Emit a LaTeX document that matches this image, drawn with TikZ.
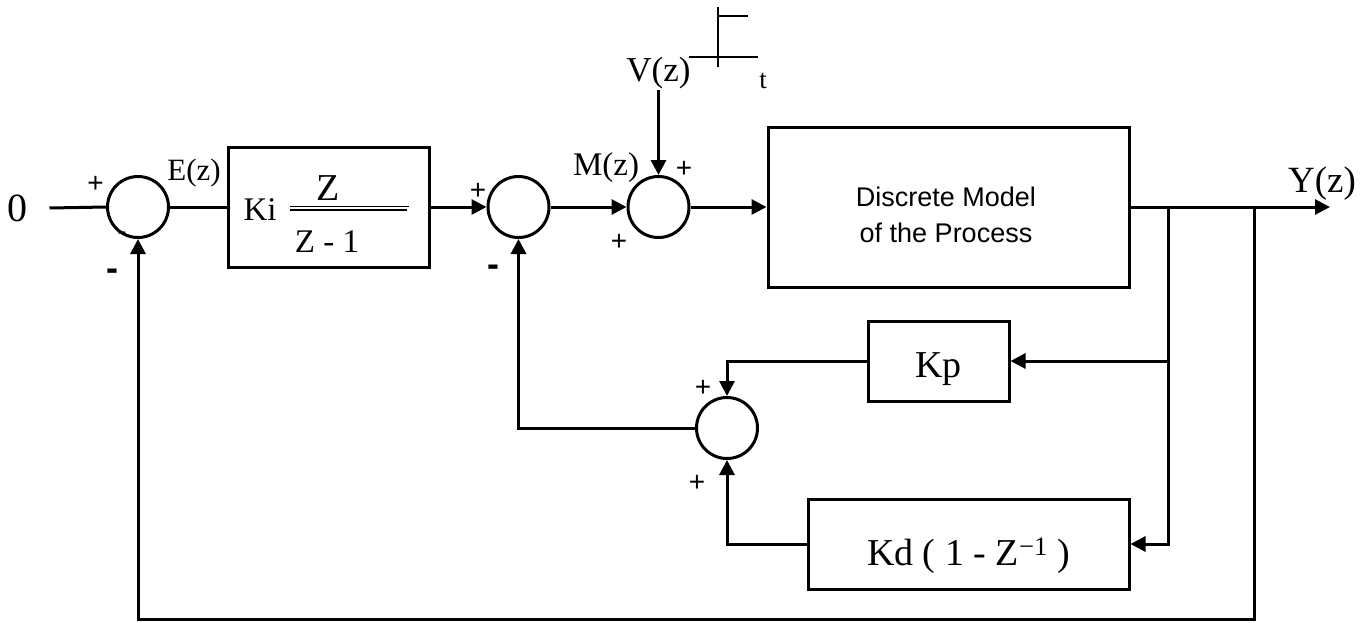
\documentclass[tikz,border=0pt]{standalone}
\usepackage{fontspec}
\setmainfont{Liberation Serif}
\newfontfamily\arialfont{Liberation Sans}
\usepackage{tikz}
\usetikzlibrary{arrows.meta}
\newcommand\fsz[1]{\fontsize{#1}{#1}\selectfont}

\begin{document}
\begin{tikzpicture}[x=1pt,y=-1pt,line width=3pt,>={Triangle[length=15pt,width=15pt]},
  sumnode/.style={circle,draw,minimum size=61pt,inner sep=0pt},
  blockbox/.style={draw,rectangle,inner sep=0pt},
  lbl/.style={inner sep=0pt},
  sgn/.style={inner sep=0pt,font=\arialfont\fsz{28}},
  bigsgn/.style={inner sep=0pt,font=\arialfont\bfseries\fsz{36}}]
  \useasboundingbox (0,0) rectangle (1371,622);
  \node[font=\fsz{40},inner xsep=20pt,inner ysep=0pt] (in0) at (18,208) {0};
  \node[sumnode] (sum1) at (138,207) {};
  \node[sgn] (s1p) at (95.5,184.5) {+};
  \node[sgn] (s1m) at (122,236) {-};
  \node[bigsgn] (s1n) at (112,275) {-};
  \node[lbl,font=\fsz{31}] (ez) at (194,173) {E(z)};
  \node[blockbox,minimum width=201pt,minimum height=120pt] (ki) at (328.5,207) {};
  \node[lbl,font=\fsz{33}] (kilbl) at (260,210) {Ki};
  \node[lbl,font=\fsz{38}] (kinum) at (328,188) {Z};
  \node[lbl,font=\fsz{33}] (kiden) at (327,242) {Z - 1};
  \draw[line width=1.5pt] (290,206.5) -- (409,206.5) (290,209.8) -- (407,209.8);
  \node[sumnode] (sum2) at (518.5,207) {};
  \node[sgn] (s2p) at (478,191) {+};
  \node[bigsgn] (s2m) at (493,271) {-};
  \node[lbl,font=\fsz{33}] (mz) at (606,168) {M(z)};
  \node[sumnode] (sum3) at (658.5,207) {};
  \node[sgn] (s3p) at (684,169) {+};
  \node[sgn] (s3q) at (619,242) {+};
  \node[lbl,font=\fsz{35}] (vz) at (658.5,73) {V(z)};
  \draw[line width=2.4pt] (689,57) -- (758,57) (718,67) -- (718,7) (718,16) -- (748,16);
  \node[lbl,font=\fsz{27}] (tlbl) at (763,81) {t};
  \node[blockbox,minimum width=361pt,minimum height=160pt] (proc) at (948.5,207) {};
  \node[lbl,align=center,font=\arialfont\fontsize{27}{36}\selectfont] (proctxt) at (946,215) {Discrete Model\\of the Process};
  \node[lbl,font=\fsz{37}] (yz) at (1322,184) {Y(z)};
  \node[blockbox,minimum width=141pt,minimum height=80pt,font=\fsz{38},text height=32pt,text depth=0pt] (kp) at (938.5,361) {Kp};
  \node[blockbox,minimum width=321pt,minimum height=90pt,font=\fsz{38},text height=42pt,text depth=0pt] (kd) at (968.5,544) {Kd ( 1 - Z\textsuperscript{−1} )};
  \node[sumnode] (sum4) at (727,428) {};
  \node[sgn] (s4p) at (703,388) {+};
  \node[sgn] (s4q) at (697,483) {+};
  \coordinate (yend) at (1330,207);
  \coordinate (br1) at (1168,207);
  \coordinate (br2) at (1254,207);
  \coordinate (fb) at (1254,619.5);
  \draw (in0.east) -- (sum1.west);
  \draw (sum1.east) -- (ki.west);
  \draw[->] (ki.east) -- (sum2.west);
  \draw[->] (sum2.east) -- (sum3.west);
  \draw[->] (sum3.east) -- (proc.west);
  \draw[->] (vz.south) -- (sum3.north);
  \draw[->] (proc.east) -- (yend);
  \draw[->] (br1) |- (kp.east);
  \draw[->] (br1) |- (kd.east);
  \draw[->] (kp.west) -| (sum4.north);
  \draw[->] (kd.west) -| (sum4.south);
  \draw[->] (sum4.west) -| (sum2.south);
  \draw[->] (br2) -- (fb) -| (sum1.south);
\end{tikzpicture}
\end{document}
